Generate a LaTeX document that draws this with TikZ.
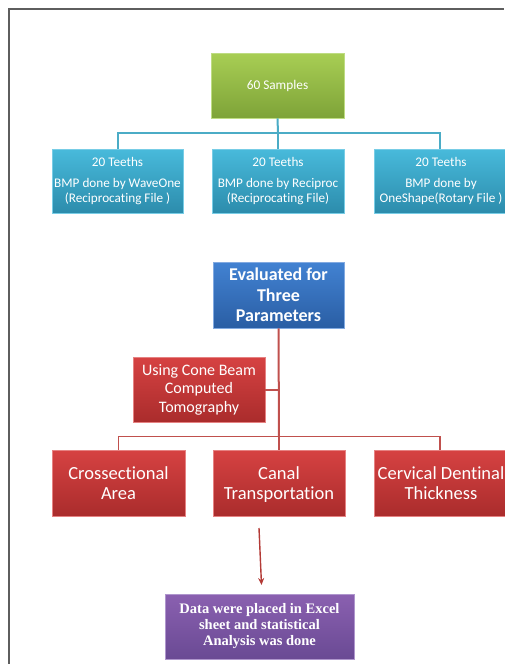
\documentclass[tikz,border=0pt]{standalone}
\usepackage{fontspec}
\setmainfont{Carlito}[Ligatures=NoCommon]
\newfontfamily\timesbf{Liberation Serif}
\usetikzlibrary{arrows.meta,calc}
\definecolor{frameg}{HTML}{5E5E5E}
\definecolor{cyanln}{HTML}{4BACC6}
\definecolor{redln}{HTML}{C0504D}
\definecolor{arrowred}{HTML}{B33A36}
\definecolor{gtop}{RGB}{168,206,84}
\definecolor{gbot}{RGB}{126,163,56}
\definecolor{gedge}{RGB}{190,220,130}
\definecolor{ctop}{RGB}{72,186,219}
\definecolor{cbot}{RGB}{44,140,172}
\definecolor{cedge}{RGB}{120,205,230}
\definecolor{btop}{RGB}{66,130,210}
\definecolor{bbot}{RGB}{42,94,164}
\definecolor{bedge}{RGB}{130,170,225}
\definecolor{rtop}{RGB}{214,66,66}
\definecolor{rbot}{RGB}{170,44,44}
\definecolor{redge}{RGB}{230,130,130}
\definecolor{ptop}{RGB}{138,96,176}
\definecolor{pbot}{RGB}{106,74,148}
\definecolor{pedge}{RGB}{175,150,205}
\newcommand{\toprule}{\rule{0pt}{18pt}}
\tikzset{
  box/.style={rectangle, inner sep=1pt, align=center, text=white, line width=0.6pt},
  greenbox/.style={box, top color=gtop, bottom color=gbot, draw=gedge},
  cyanbox/.style={box, top color=ctop, bottom color=cbot, draw=cedge},
  bluebox/.style={box, top color=btop, bottom color=bbot, draw=bedge},
  redbox/.style={box, top color=rtop, bottom color=rbot, draw=redge},
  purplebox/.style={box, top color=ptop, bottom color=pbot, draw=pedge},
  cyanconn/.style={draw=cyanln, line width=2pt},
  redconn/.style={draw=redln, line width=2pt},
}
\begin{document}
\begin{tikzpicture}[x=1pt,y=-1pt]
\useasboundingbox (0,0) rectangle (504,664);
% frame
\draw[frameg, line width=2pt] (8.5,664) -- (8.5,9) -- (504,9);
% top level
\node[greenbox, minimum width=133pt, minimum height=65pt, font=\fontsize{13.3}{15}\selectfont] (g) at (277.5,85.5) {60 Samples};
\node[cyanbox, minimum width=131pt, minimum height=64pt, font=\fontsize{13.2}{15}\selectfont] (c1) at (117.5,181) {20 Teeths\\[6pt]BMP done by WaveOne\\(Reciprocating File )};
\node[cyanbox, minimum width=132pt, minimum height=64pt, font=\fontsize{13.2}{15}\selectfont] (c2) at (278,181) {20 Teeths\\[6pt]BMP done by Reciproc\\(Reciprocating File)};
\node[cyanbox, minimum width=134pt, minimum height=64pt, font=\fontsize{13.2}{15}\selectfont] (c3) at (441,181) {20 Teeths\\[6pt]BMP done by\\OneShape(Rotary File )};
\coordinate (j1) at (278,133);
\draw[cyanconn] (g.south) -- (j1);
\draw[cyanconn] (j1) -| (c1.north);
\draw[cyanconn] (j1) -- (c2.north);
\draw[cyanconn] ([xshift=-1pt]j1) -| ([xshift=-1pt]c3.north);
% evaluation
\node[bluebox, minimum width=131pt, minimum height=66pt, font=\bfseries\fontsize{18}{20.5}\selectfont] (b) at (278.5,295) {Evaluated for\\Three\\Parameters};
\node[redbox, minimum width=132pt, minimum height=65pt, font=\fontsize{16}{18.5}\selectfont] (cb) at (199,389.5) {Using Cone Beam\\Computed\\Tomography};
\node[redbox, minimum width=133pt, minimum height=66pt, font=\fontsize{18.5}{20}\selectfont] (r1) at (118.5,483) {\toprule Crossectional\\Area\strut};
\node[redbox, minimum width=132pt, minimum height=66pt, font=\fontsize{18.5}{20}\selectfont] (r2) at (279,483) {\toprule Canal\\Transportation\strut};
\node[redbox, minimum width=134pt, minimum height=66pt, font=\fontsize{18.5}{20}\selectfont] (r3) at (441,483) {\toprule Cervical Dentinal\\Thickness\strut};
\coordinate (j2) at (279,436.5);
\draw[redconn] (b.south) -- (j2);
\draw[redconn] (cb.east) -- (cb.east -| b.south);
\draw[draw=redln, line width=1.3pt] (j2) -| (r1.north);
\draw[draw=redln, line width=1.3pt] ([xshift=-1pt]j2) -| ([xshift=-1pt]r3.north);
\draw[redconn] (j2) -- (r2.north);
% final
\node[purplebox, minimum width=189pt, minimum height=65pt, font=\timesbf\bfseries\fontsize{14.5}{16}\selectfont] (p) at (259.5,626.5) {Data were placed in Excel\\sheet and statistical\\Analysis was done};
\coordinate (a1) at (259,528);
\coordinate (a2) at (261.5,585);
\draw[arrowred, line width=1.4pt, -{Stealth[length=7pt,width=6pt]}] (a1) -- (a2);
\end{tikzpicture}
\end{document}
